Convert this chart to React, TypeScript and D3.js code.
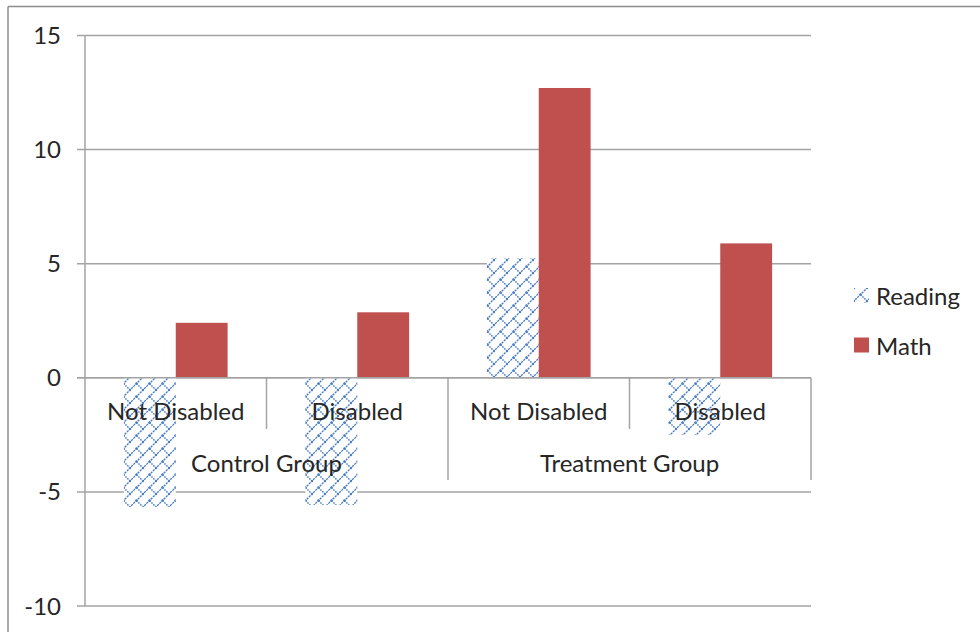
import React from "react";
import * as d3 from "d3";

const subCategories = ["Not Disabled", "Disabled", "Not Disabled", "Disabled"];
const groups = ["Control Group", "Treatment Group"];
const groupSpans = [2, 2];
const seriesNames = ["Reading", "Math"];
const readingValues = [-5.65, -5.57, 5.24, -2.5];
const mathValues = [2.41, 2.87, 12.7, 5.89];
const yTicks = [-10, -5, 0, 5, 10, 15];

const W = 980;
const H = 632;
const FONT = "Lato, 'Open Sans', sans-serif";
const GRID = "#a3a3a3";
const TEXT = "#262626";
const BLUE = "#4a7dc4";
const RED = "#c0504d";

export default function App() {
  const left = 85;
  const right = 811;
  const y = d3.scaleLinear().domain([-10, 15]).range([606, 35.5]);
  const ids = subCategories.map((_, i) => String(i));
  const x0 = d3.scaleBand<string>().domain(ids).range([left, right]).paddingInner(0).paddingOuter(0);
  const x1 = d3
    .scaleBand<string>()
    .domain(seriesNames)
    .range([0, x0.bandwidth()])
    .paddingInner(0)
    .paddingOuter(0.75);
  const y0 = y(0);

  const bars: { key: string; x: number; y: number; w: number; h: number; series: string }[] = [];
  ids.forEach((id, i) => {
    [readingValues[i], mathValues[i]].forEach((v, s) => {
      const sn = seriesNames[s];
      const top = y(Math.max(0, v));
      const bot = y(Math.min(0, v));
      bars.push({ key: id + sn, x: (x0(id) as number) + (x1(sn) as number), y: top, w: x1.bandwidth(), h: bot - top, series: sn });
    });
  });

  let acc = 0;
  const groupInfo = groups.map((g, gi) => {
    const startIdx = acc;
    acc += groupSpans[gi];
    const x1g = x0(ids[startIdx]) as number;
    const x2g = (x0(ids[acc - 1]) as number) + x0.bandwidth();
    return { name: g, start: x1g, end: x2g };
  });
  const innerSeps: number[] = [];
  const outerSeps: number[] = groupInfo.map((g) => g.end);
  ids.forEach((id) => {
    const xe = (x0(id) as number) + x0.bandwidth();
    if (!outerSeps.some((o) => Math.abs(o - xe) < 0.5)) innerSeps.push(xe);
  });

  const T = 13;

  return (
    <svg width={W} height={H} style={{ position: "absolute", left: 0, top: 0, background: "#fff" }}>
      <defs>
        <pattern id="shingle" patternUnits="userSpaceOnUse" width={T} height={T} x={0} y={0}>
          <rect width={T} height={T} fill="#fff" />
          <g stroke={BLUE} strokeWidth={1.3} fill="none">
            <line x1={-1} y1={T + 1} x2={T + 1} y2={-1} strokeDasharray="2.2 0.9" />
            <line x1={T / 2} y1={T / 2} x2={T} y2={T} strokeDasharray="1.6 1.1" strokeWidth={1.5} />
            <line x1={0} y1={0} x2={0.5} y2={0.5} strokeWidth={1.5} />
          </g>
          <circle cx={T / 2} cy={T / 2} r={1.2} fill={BLUE} />
          <circle cx={T} cy={T} r={1.2} fill={BLUE} />
          <circle cx={0} cy={0} r={1.2} fill={BLUE} />
          <circle cx={T} cy={0} r={1.2} fill={BLUE} />
          <circle cx={0} cy={T} r={1.2} fill={BLUE} />
        </pattern>
      </defs>
      <rect x={0} y={0} width={W} height={H} fill="#fff" />
      <line x1={8} y1={6.5} x2={W} y2={6.5} stroke="#8c8c8c" strokeWidth={1.5} />
      <line x1={8} y1={6.5} x2={8} y2={H} stroke="#8c8c8c" strokeWidth={1.5} />

      {yTicks.map((t) => (
        <line key={t} x1={77} x2={right} y1={y(t)} y2={y(t)} stroke={GRID} strokeWidth={1.5} />
      ))}
      <line x1={left} x2={left} y1={y(15)} y2={y(-10)} stroke={GRID} strokeWidth={1.5} />

      {bars.map((b) => (
        <rect
          key={b.key}
          x={b.x}
          y={b.y}
          width={b.w}
          height={b.h}
          fill={b.series === "Reading" ? "url(#shingle)" : RED}
        />
      ))}

      <line x1={77} x2={right} y1={y0} y2={y0} stroke={GRID} strokeWidth={1.5} />

      {innerSeps.map((s) => (
        <line key={"i" + s} x1={s} x2={s} y1={y0} y2={429} stroke={GRID} strokeWidth={1.5} />
      ))}
      {outerSeps.map((s) => (
        <line key={"o" + s} x1={s} x2={s} y1={y0} y2={480} stroke={GRID} strokeWidth={1.5} />
      ))}

      {yTicks.map((t) => (
        <text key={"l" + t} x={61} y={y(t) + 8.5} textAnchor="end" fontFamily={FONT} fontSize={24} fill={TEXT}>
          {t}
        </text>
      ))}

      {ids.map((id, i) => (
        <text
          key={"c" + id}
          x={(x0(id) as number) + x0.bandwidth() / 2}
          y={419.5}
          textAnchor="middle"
          fontFamily={FONT}
          fontSize={24}
          fill={TEXT}
        >
          {subCategories[i]}
        </text>
      ))}
      {groupInfo.map((g) => (
        <text key={g.name} x={(g.start + g.end) / 2} y={472} textAnchor="middle" fontFamily={FONT} fontSize={24} fill={TEXT}>
          {g.name}
        </text>
      ))}

      {seriesNames.map((s, i) => (
        <g key={"lg" + s} transform={`translate(854, ${288 + i * 49.5})`}>
          <rect x={0} y={0} width={15} height={15} fill={s === "Reading" ? "url(#shingle)" : RED} />
          <text x={22} y={17} fontFamily={FONT} fontSize={24} fill={TEXT}>
            {s}
          </text>
        </g>
      ))}
    </svg>
  );
}
